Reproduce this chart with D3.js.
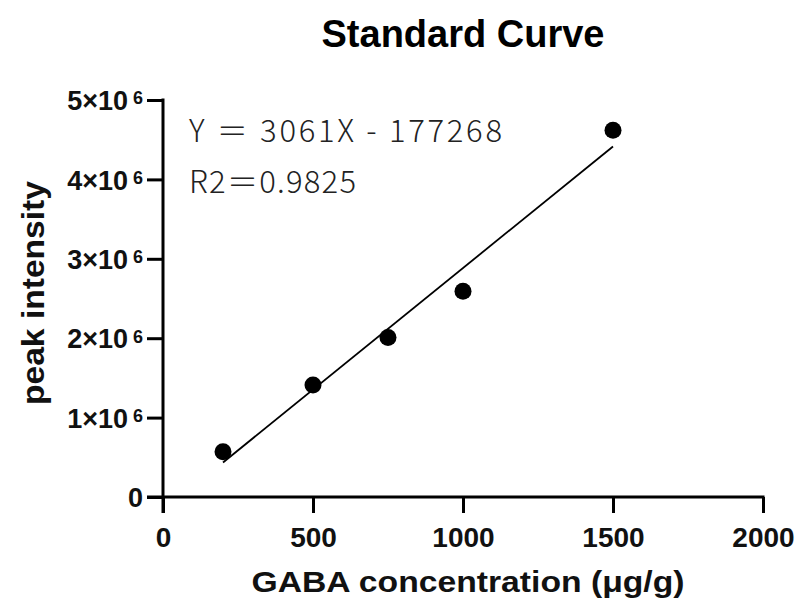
<!DOCTYPE html>
<html>
<head>
<meta charset="utf-8">
<script src="https://cdn.jsdelivr.net/npm/d3@7"></script>
<style>
  body { margin: 0; background: #fff; }
  text { font-family: "Liberation Sans", Arial, sans-serif; }
</style>
</head>
<body>
<svg id="chart" width="798" height="604"></svg>
<script>
// measured points
const concentration = [200, 500, 750, 1000, 1500];
const intensity = [570000, 1410000, 2010000, 2590000, 4620000];

// linear fit given on the chart
const slope = 3061;
const intercept = -177268;
const fitText = ['Y ＝ 3061X - 177268', 'R2＝0.9825'];
const fitWidth = [313, 167];

const xTicks = [0, 500, 1000, 1500, 2000];
const yTicks = [0, 1e6, 2e6, 3e6, 4e6, 5e6];

const svg = d3.select('#chart');

const x = d3.scaleLinear().domain([0, 2000]).range([163, 763]);
const y = d3.scaleLinear().domain([0, 5e6]).range([497, 100]);

const axisStroke = 3;

// x axis (starts a little left of the y axis, like prism)
const xAxis = svg.append('g')
    .attr('transform', `translate(0,${y(0)})`)
    .call(d3.axisBottom(x).tickValues(xTicks).tickSize(16).tickSizeOuter(0).tickFormat(d3.format('d')));
xAxis.select('.domain').remove();
xAxis.append('line')
    .attr('x1', 147).attr('x2', x(2000) + 1.5)
    .attr('stroke', '#000').attr('stroke-width', axisStroke);
xAxis.selectAll('.tick line').attr('stroke-width', axisStroke);
xAxis.selectAll('.tick text')
    .attr('y', 50).attr('dy', 0)
    .attr('font-size', 28).attr('font-weight', 'bold').attr('fill', '#111');

// y axis
const yAxis = svg.append('g')
    .attr('transform', `translate(${x(0)},0)`)
    .call(d3.axisLeft(y).tickValues(yTicks).tickSize(16).tickSizeOuter(0).tickFormat(''));
yAxis.select('.domain').remove();
yAxis.append('line')
    .attr('y1', y(5e6) - 1.5).attr('y2', 513)
    .attr('stroke', '#000').attr('stroke-width', axisStroke);
yAxis.selectAll('.tick line').attr('stroke-width', axisStroke);

yAxis.selectAll('.tick').each(function (d) {
    const t = d3.select(this).append('text')
        .attr('x', -20).attr('dy', '0.36em')
        .attr('text-anchor', 'end')
        .attr('font-size', 27).attr('font-weight', 'bold').attr('fill', '#111');
    if (d === 0) {
        t.text('0');
    } else {
        t.append('tspan').text(`${d / 1e6}×10`);
        t.append('tspan').attr('dx', 5).attr('dy', '-0.32em').attr('font-size', 18).text('6');
    }
});

// fit line
svg.append('line')
    .attr('x1', x(concentration[0])).attr('y1', y(slope * concentration[0] + intercept))
    .attr('x2', x(concentration[4])).attr('y2', y(slope * concentration[4] + intercept))
    .attr('stroke', '#000').attr('stroke-width', 1.8);

// points
svg.selectAll('circle.pt')
    .data(concentration.map((c, i) => [c, intensity[i]]))
    .enter()
    .append('circle')
    .attr('class', 'pt')
    .attr('cx', (d) => x(d[0]))
    .attr('cy', (d) => y(d[1]))
    .attr('r', 8.5)
    .attr('fill', '#000');

// equation text
svg.selectAll('text.fit')
    .data(fitText)
    .enter()
    .append('text')
    .attr('class', 'fit')
    .attr('x', 189)
    .attr('y', (d, i) => 142 + i * 51)
    .attr('font-size', 31)
    .attr('font-weight', 300)
    .attr('textLength', (d, i) => fitWidth[i])
    .attr('lengthAdjust', 'spacing')
    .style('font-family', '"Noto Sans CJK JP", "Noto Sans", sans-serif')
    .attr('fill', '#222')
    .text((d) => d);

// title and axis labels
svg.append('text')
    .attr('x', 463).attr('y', 47)
    .attr('text-anchor', 'middle')
    .attr('font-size', 38).attr('font-weight', 'bold')
    .text('Standard Curve');

svg.append('text')
    .attr('x', 468).attr('y', 592)
    .attr('text-anchor', 'middle')
    .attr('font-size', 30).attr('font-weight', 'bold').attr('fill', '#111')
    .attr('textLength', 433).attr('lengthAdjust', 'spacingAndGlyphs')
    .text('GABA concentration (μg/g)');

svg.append('text')
    .attr('transform', 'translate(44,293) rotate(-90)')
    .attr('text-anchor', 'middle')
    .attr('font-size', 31).attr('font-weight', 'bold').attr('fill', '#111')
    .attr('textLength', 224).attr('lengthAdjust', 'spacingAndGlyphs')
    .text('peak intensity');
</script>
</body>
</html>
